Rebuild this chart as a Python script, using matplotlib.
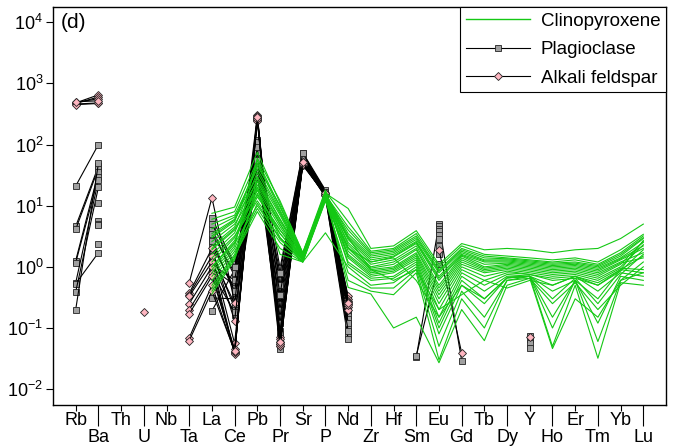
import numpy as np
import matplotlib
matplotlib.use('Agg')
import matplotlib.pyplot as plt
from matplotlib.lines import Line2D
from matplotlib.ticker import NullLocator

plt.rcParams['font.family'] = ['Liberation Sans', 'DejaVu Sans']
plt.rcParams['mathtext.fontset'] = 'custom'
plt.rcParams['mathtext.rm'] = 'Liberation Sans'

nan = np.nan

# spider diagram element order
elements = ['Rb', 'Ba', 'Th', 'U', 'Nb', 'Ta', 'La', 'Ce', 'Pb', 'Pr', 'Sr', 'P', 'Nd',
            'Zr', 'Hf', 'Sm', 'Eu', 'Gd', 'Tb', 'Dy', 'Y', 'Ho', 'Er', 'Tm', 'Yb', 'Lu']

# clinopyroxene, La .. Lu
cpx_elements = elements[6:]
cpx = [
    [7.5, 9.5, 75, 11, 1.7, 16, 9.0, 2.0, 2.2, 3.9, 1.1, 2.4, 1.9, 2.0, 1.9, 1.7, 1.9, 2.0, 2.9, 5.0],
    [6.0, 8.0, 55, 9.5, 1.6, 17, 5.5, 1.8, 2.0, 3.5, 1.0, 2.2, 1.6, 1.5, 1.4, 1.3, 1.4, 1.2, 1.9, 3.4],
    [5.0, 7.0, 40, 8.0, 1.5, 15, 4.5, 1.7, 1.9, 3.2, 0.9, 2.0, 1.5, 1.4, 1.3, 1.2, 1.3, 1.1, 1.7, 3.2],
    [4.2, 6.5, 30, 7.0, 1.4, 14, 4.0, 1.6, 1.8, 3.0, 0.85, 1.9, 1.4, 1.35, 1.25, 1.15, 1.2, 1.05, 1.6, 3.0],
    [3.5, 6.0, 25, 6.0, 1.5, 16, 3.5, 1.5, 1.7, 2.8, 0.8, 1.8, 1.3, 1.3, 1.2, 1.1, 1.15, 1.0, 1.5, 2.9],
    [3.0, 5.5, 45, 10, 1.6, 15, 3.2, 1.4, 1.6, 2.6, 0.7, 1.7, 1.25, 1.25, 1.15, 1.05, 1.1, 0.95, 1.4, 2.5],
    [2.6, 5.0, 20, 5.0, 1.3, 13, 3.0, 1.3, 1.5, 2.5, 0.65, 1.6, 1.2, 1.2, 1.1, 1.0, 1.05, 0.9, 1.35, 2.2],
    [2.2, 4.5, 35, 7.5, 1.5, 15, 2.8, 1.2, 1.45, 2.4, 0.6, 1.55, 1.1, 1.15, 1.05, 0.95, 1.0, 0.85, 1.3, 2.0],
    [1.9, 4.0, 15, 4.0, 1.4, 14, 2.5, 1.1, 1.3, 2.2, 0.5, 1.5, 1.0, 1.1, 1.0, 0.9, 0.95, 0.8, 1.2, 1.7],
    [1.6, 3.6, 28, 6.0, 1.4, 16, 2.3, 1.0, 1.2, 2.0, 0.45, 1.4, 0.95, 1.05, 0.95, 0.85, 0.9, 0.75, 1.15, 1.4],
    [1.4, 3.2, 12, 3.5, 1.3, 13, 2.1, 0.95, 1.1, 1.9, 0.4, 1.3, 0.9, 1.0, 0.9, 0.8, 0.85, 0.7, 1.1, 2.6],
    [1.2, 3.0, 22, 5.5, 1.5, 15, 2.0, 0.9, 1.0, 1.7, 0.35, 1.2, 0.85, 0.95, 0.85, 0.75, 0.8, 0.65, 1.0, 2.3],
    [1.0, 2.7, 18, 4.5, 1.3, 14, 1.8, 0.85, 0.95, 1.6, 0.3, 1.1, 0.8, 0.9, 0.8, 0.7, 0.75, 0.6, 0.95, 0.9],
    [0.9, 2.4, 10, 3.0, 1.2, 12, 1.6, 0.8, 0.9, 1.5, 0.25, 1.0, 0.7, 0.85, 0.75, 0.65, 0.7, 0.55, 0.9, 0.8],
    [0.8, 2.2, 60, 12, 1.7, 18, 1.5, 0.75, 0.85, 1.4, 0.2, 0.9, 0.6, 0.8, 0.75, 0.6, 0.65, 0.5, 0.85, 1.9],
    [0.7, 2.0, 14, 4.0, 1.3, 14, 1.4, 0.7, 0.8, 1.3, 0.15, 0.8, 0.5, 0.75, 0.7, 0.5, 0.7, 0.4, 0.8, 0.7],
    [0.6, 1.8, 9, 2.5, 1.2, 13, 1.2, 0.65, 0.7, 1.2, 0.12, 0.7, 0.4, 0.7, 0.7, 0.3, 0.65, 0.25, 0.75, 1.6],
    [0.5, 1.6, 16, 3.5, 1.3, 15, 1.1, 0.6, 0.65, 1.1, 0.1, 0.6, 0.3, 0.66, 0.7, 0.15, 0.6, 0.12, 0.7, 0.6],
    [0.45, 1.5, 8, 2.0, 1.2, 3.6, 1.0, 0.5, 0.55, 1.0, 0.08, 0.5, 0.25, 0.66, 0.7, 0.1, 0.6, 0.06, 0.6, 1.2],
    [0.4, 1.4, 11, 2.8, 1.3, 12, 0.8, 0.45, 0.45, 0.9, 0.05, 0.4, 0.15, 0.6, 0.7, 0.05, 0.5, 0.032, 0.55, 0.5],
    [0.36, 1.3, 20, 1.6, 1.2, 14, 0.6, 0.4, 0.35, 0.8, 0.03, 0.3, 0.1, 0.6, 0.65, 0.25, 0.55, 0.2, 0.5, 1.0],
    [1.0, 2.5, 25, 5.0, 1.4, 15, 0.46, 0.36, 0.1, 0.15, 0.027, 0.2, 0.062, 0.5, 0.65, 0.046, 0.3, 0.15, 0.6, 0.8],
    [2.0, 4.2, 18, 3.0, 1.3, 13, 2.0, 1.2, 1.4, 0.6, 0.15, 0.5, 0.3, 0.66, 0.7, 0.4, 0.6, 0.3, 0.9, 1.5],
    [3.2, 5.8, 50, 8.5, 1.6, 16, 3.0, 0.9, 0.6, 0.9, 0.2, 0.35, 0.6, 0.45, 0.6, 0.5, 0.7, 0.5, 0.9, 2.7],
]

# plagioclase, full element list (gaps where not analysed)
#        Rb    Ba   Th   U    Nb   Ta   La    Ce    Pb   Pr    Sr  P   Nd     Zr   Hf   Sm     Eu   Gd     Tb   Dy   Y      Ho   Er   Tm   Yb   Lu
plag = [
    [21,   100, nan, nan, nan, nan, 6.2,  1.1,  120, 0.95, 74, 18, 0.31,  nan, nan, 0.033, 5.0, 0.029, nan, nan, 0.074, nan, nan, nan, nan, nan],
    [4.6,  44,  nan, nan, nan, nan, 4.2,  0.7,  95,  0.6,  70, 17, 0.27,  nan, nan, nan,   4.6, nan,   nan, nan, 0.065, nan, nan, nan, nan, nan],
    [4.1,  41,  nan, nan, nan, nan, 2.9,  0.36, 70,  0.4,  66, 17, 0.22,  nan, nan, nan,   4.2, nan,   nan, nan, 0.056, nan, nan, nan, nan, nan],
    [1.26, 35,  nan, nan, nan, nan, 1.8,  0.21, 29,  0.3,  62, 16, 0.19,  nan, nan, nan,   3.8, nan,   nan, nan, 0.047, nan, nan, nan, nan, nan],
    [1.17, 29,  nan, nan, nan, nan, 1.25, 0.16, 60,  0.25, 60, 16, 0.16,  nan, nan, nan,   3.3, nan,   nan, nan, nan,   nan, nan, nan, nan, nan],
    [0.55, 26,  nan, nan, nan, nan, 0.96, 0.5,  80,  0.2,  58, 15, 0.14,  nan, nan, nan,   2.8, nan,   nan, nan, nan,   nan, nan, nan, nan, nan],
    [0.53, 1.7, nan, nan, nan, nan, 0.31, 0.3,  50,  0.15, 56, 15, 0.12,  nan, nan, nan,   2.2, nan,   nan, nan, nan,   nan, nan, nan, nan, nan],
    [0.39, 20,  nan, nan, nan, nan, 0.19, 0.9,  100, 0.12, 55, 15, 0.1,   nan, nan, nan,   1.6, nan,   nan, nan, nan,   nan, nan, nan, nan, nan],
    [0.2,  49,  nan, nan, nan, nan, 2.2,  0.45, 85,  0.09, 52, 14, 0.08,  nan, nan, 0.035, 1.1, nan,   nan, nan, nan,   nan, nan, nan, nan, nan],
    [nan,  11,  nan, nan, nan, nan, 1.5,  0.25, 65,  0.07, 50, 14, 0.066, nan, nan, nan,   nan, nan,   nan, nan, nan,   nan, nan, nan, nan, nan],
    [nan,  5.6, nan, nan, nan, nan, 3.5,  0.8,  110, 0.5,  68, 17, 0.25,  nan, nan, nan,   nan, nan,   nan, nan, nan,   nan, nan, nan, nan, nan],
    [nan,  5.0, nan, nan, nan, nan, 1.1,  0.6,  75,  0.35, 64, 16, 0.2,   nan, nan, nan,   nan, nan,   nan, nan, nan,   nan, nan, nan, nan, nan],
    [nan,  4.9, nan, nan, nan, nan, 2.6,  0.4,  90,  0.046, 60, 16, 0.12, nan, nan, nan,   nan, nan,   nan, nan, nan,   nan, nan, nan, nan, nan],
    [nan,  2.4, nan, nan, nan, nan, 0.8,  0.18, 45,  0.08, 57, 15, 0.09,  nan, nan, nan,   nan, nan,   nan, nan, nan,   nan, nan, nan, nan, nan],
    [nan,  nan, nan, nan, nan, nan, 5.0,  1.0,  55,  0.8,  72, 17, 0.3,   nan, nan, nan,   nan, nan,   nan, nan, nan,   nan, nan, nan, nan, nan],
]

# alkali feldspar
afs = [
    [480, 650, nan, nan,  nan, 0.55,  13.5, 0.26,  300, 0.07,  50, 16, 0.33, nan, nan, nan, 1.9, 0.039, nan, nan, 0.07, nan, nan, nan, nan, nan],
    [470, 600, nan, nan,  nan, 0.37,  2.0,  0.13,  280, 0.065, 48, 15, 0.3,  nan, nan, nan, nan, nan, nan, nan, nan, nan, nan, nan, nan, nan],
    [460, 480, nan, nan,  nan, 0.35,  1.5,  0.056, 270, 0.06,  52, 16, 0.28, nan, nan, nan, nan, nan, nan, nan, nan, nan, nan, nan, nan, nan],
    [490, 560, nan, nan,  nan, 0.33,  1.2,  0.039, 260, 0.055, 50, 15, 0.25, nan, nan, nan, nan, nan, nan, nan, nan, nan, nan, nan, nan, nan],
    [450, 470, nan, nan,  nan, 0.25,  1.0,  0.038, 250, 0.05,  47, 15, 0.22, nan, nan, nan, nan, nan, nan, nan, nan, nan, nan, nan, nan, nan],
    [500, 520, nan, 0.18, nan, 0.2,   0.8,  0.04,  290, 0.06,  49, 16, 0.27, nan, nan, nan, nan, nan, nan, nan, nan, nan, nan, nan, nan, nan],
    [nan, nan, nan, nan,  nan, 0.17,  0.7,  0.045, 240, 0.05,  46, 15, 0.2,  nan, nan, nan, nan, nan, nan, nan, nan, nan, nan, nan, nan, nan],
    [nan, nan, nan, nan,  nan, 0.069, 0.5,  0.04,  260, 0.055, 48, 15, 0.24, nan, nan, nan, nan, nan, nan, nan, nan, nan, nan, nan, nan, nan],
    [nan, nan, nan, nan,  nan, 0.062, 0.4,  0.042, 280, 0.06,  51, 16, 0.26, nan, nan, nan, nan, nan, nan, nan, nan, nan, nan, nan, nan, nan],
]

green = '#14c814'
plag_style = dict(color='black', lw=0.8, marker='s', ms=4.0, mfc='#a0a0a0', mec='#222222', mew=0.6)
afs_style = dict(color='black', lw=0.8, marker='D', ms=4.0, mfc='#ffb6c1', mec='#222222', mew=0.6)

fig = plt.figure(figsize=(6.78, 4.48), dpi=100)
ax = fig.add_axes([53 / 678, 1 - 405 / 448, (666 - 53) / 678, (405 - 7) / 448])

x = np.arange(len(elements))
x_cpx = np.array([elements.index(e) for e in cpx_elements])

for row in plag:
    ax.plot(x, row, **plag_style)
for row in afs:
    ax.plot(x, row, **afs_style)
for row in cpx:
    ax.plot(x_cpx, row, color=green, lw=0.8)

ax.set_yscale('log')
ax.set_ylim(10 ** -2.26, 10 ** 4.25)
ax.set_xlim(-1, 26)
yt = [1e-2, 1e-1, 1e0, 1e1, 1e2, 1e3, 1e4]
ax.set_yticks(yt)
ax.set_yticklabels([r'$\mathregular{10^{%d}}$' % k for k in range(-2, 5)], fontsize=13)
ax.yaxis.set_minor_locator(NullLocator())
ax.tick_params(axis='y', length=5, width=0.8, pad=2)

# alternating element labels: two rows, longer ticks for the lower row
ax.set_xticks(x[::2])
ax.set_xticklabels(elements[::2], fontsize=13)
ax.set_xticks(x[1::2], minor=True)
ax.set_xticklabels(elements[1::2], minor=True, fontsize=13)
ax.tick_params(axis='x', which='major', length=4, width=0.8, pad=1)
ax.tick_params(axis='x', which='minor', length=15, width=0.8, pad=2)

for s in ax.spines.values():
    s.set_linewidth(1.0)

ax.text(0.012, 0.985, '(d)', transform=ax.transAxes, fontsize=15, va='top', ha='left')

handles = [
    Line2D([], [], color=green, lw=1.0),
    Line2D([], [], **plag_style),
    Line2D([], [], **afs_style),
]
leg = ax.legend(handles, ['Clinopyroxene', 'Plagioclase', 'Alkali feldspar'],
                loc='upper right', borderaxespad=0, fancybox=False, edgecolor='black',
                framealpha=1, fontsize=13.5, handlelength=3.4, handletextpad=0.6,
                labelspacing=0.6, borderpad=0.3, numpoints=1)
leg.get_frame().set_linewidth(0.8)

fig.savefig('out.png', dpi=100)
